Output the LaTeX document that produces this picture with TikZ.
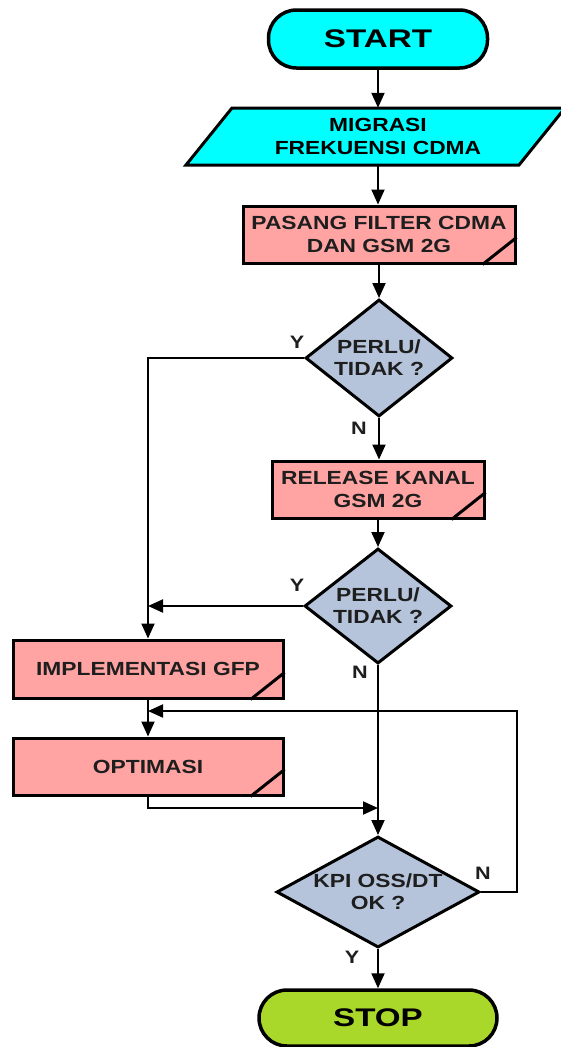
\documentclass[tikz,border=0pt]{standalone}
\usepackage{fontspec}
\newfontfamily\boxfont{Liberation Sans}[FakeStretch=1.2]
\newfontfamily\termfont{Liberation Sans}[FakeStretch=1.3]
\usetikzlibrary{shapes.geometric}
\usetikzlibrary{arrows.meta}
\usetikzlibrary{calc}

\definecolor{termcyan}{HTML}{00FFFF}
\definecolor{procpink}{HTML}{FFA3A3}
\definecolor{decblue}{HTML}{B5C4DA}
\definecolor{stopgreen}{HTML}{AAD82A}
\definecolor{ink}{HTML}{1E1E1E}

\begin{document}
\begin{tikzpicture}[x=1pt, y=-1pt, line join=miter,
  terminal/.style={draw, line width=3.5pt, rounded corners=28pt, minimum width=219pt, minimum height=58pt,
    font=\termfont\bfseries\fontsize{25.5}{28}\selectfont, text=black},
  proc/.style={draw, line width=3pt, fill=procpink, minimum height=57pt, align=center,
    font=\boxfont\bfseries\fontsize{19}{23}\selectfont, text=ink},
  dec/.style={diamond, draw, line width=3pt, fill=decblue, inner sep=0pt},
  dectext/.style={align=center, font=\boxfont\bfseries\fontsize{19}{22}\selectfont, text=ink},
  yn/.style={font=\boxfont\bfseries\fontsize{18}{18}\selectfont, text=ink},
  arr/.style={draw, line width=2pt, -{Triangle[length=15pt, width=13pt]}}]
  \useasboundingbox (0,0) rectangle (561,1047);

  \node[terminal, fill=termcyan] (start) at (378,39) {START};
  \draw[line width=3pt, fill=termcyan] (232,108) -- (565,108) -- (519,165) -- (186,165) -- cycle;
  \node[minimum width=290pt, minimum height=57pt, align=center,
    font=\boxfont\bfseries\fontsize{19}{23}\selectfont, text=black] (migr) at (378,136.5) {MIGRASI\\FREKUENSI CDMA};
  \node[proc, minimum width=272pt] (pf) at (379,234.5) {PASANG FILTER CDMA\\DAN GSM 2G};
  \node[dec, minimum width=147pt, minimum height=117pt] (d1) at (379,358) {};
  \node[dectext] (d1t) at (d1) {PERLU/\\TIDAK ?};
  \node[proc, minimum width=212pt] (rk) at (378,489.5) {RELEASE KANAL\\GSM 2G};
  \node[dec, minimum width=147pt, minimum height=115pt] (d2) at (378,606) {};
  \node[dectext] (d2t) at (d2) {PERLU/\\TIDAK ?};
  \node[proc, minimum width=270pt, minimum height=58pt] (gfp) at (148,669) {IMPLEMENTASI GFP};
  \node[proc, minimum width=270pt] (opt) at (148,766.5) {OPTIMASI};
  \node[dec, minimum width=203pt, minimum height=111pt] (d3) at (378,892) {};
  \node[dectext] (d3t) at (d3) {KPI OSS/DT\\OK ?};
  \node[terminal, fill=stopgreen, minimum width=238pt, minimum height=56pt] (stop) at (378,1018) {STOP};

  % corner marks
  \foreach \n in {pf,rk,gfp,opt}
    \draw[line width=3pt] ($(\n.south east)+(-34,0)$) -- ($(\n.south east)+(0,-27)$);

  \coordinate (fb) at (148,711);
  \coordinate (jn) at (378,808);

  \path[arr] (start.south) -- (migr.north);
  \path[arr] (migr.south) -- (migr.south |- pf.north);
  \path[arr] (pf.south -| d1.north) -- (d1.north);
  \path[arr] (d1.south) -- (d1.south |- rk.north);
  \path[arr] (d1.west) -| (gfp.north);
  \path[arr] (rk.south) -- (d2.north);
  \path[arr] (d2.west) -- (d2.west -| gfp.north);
  \path[arr] (d2.south) -- (d3.north);
  \path[arr] (gfp.south) -- (opt.north);
  \path[arr] (opt.south) |- (jn);
  \path[arr] (d3.east) -- ++(36,0) |- (fb);
  \path[arr] (d3.south) -- (stop.north);

  \node[yn] (y1) at (297,342) {Y};
  \node[yn] (n1) at (359,428) {N};
  \node[yn] (y2) at (297,585) {Y};
  \node[yn] (n2) at (360,672) {N};
  \node[yn] (n3) at (483,873) {N};
  \node[yn] (y3) at (352,957) {Y};
\end{tikzpicture}
\end{document}
